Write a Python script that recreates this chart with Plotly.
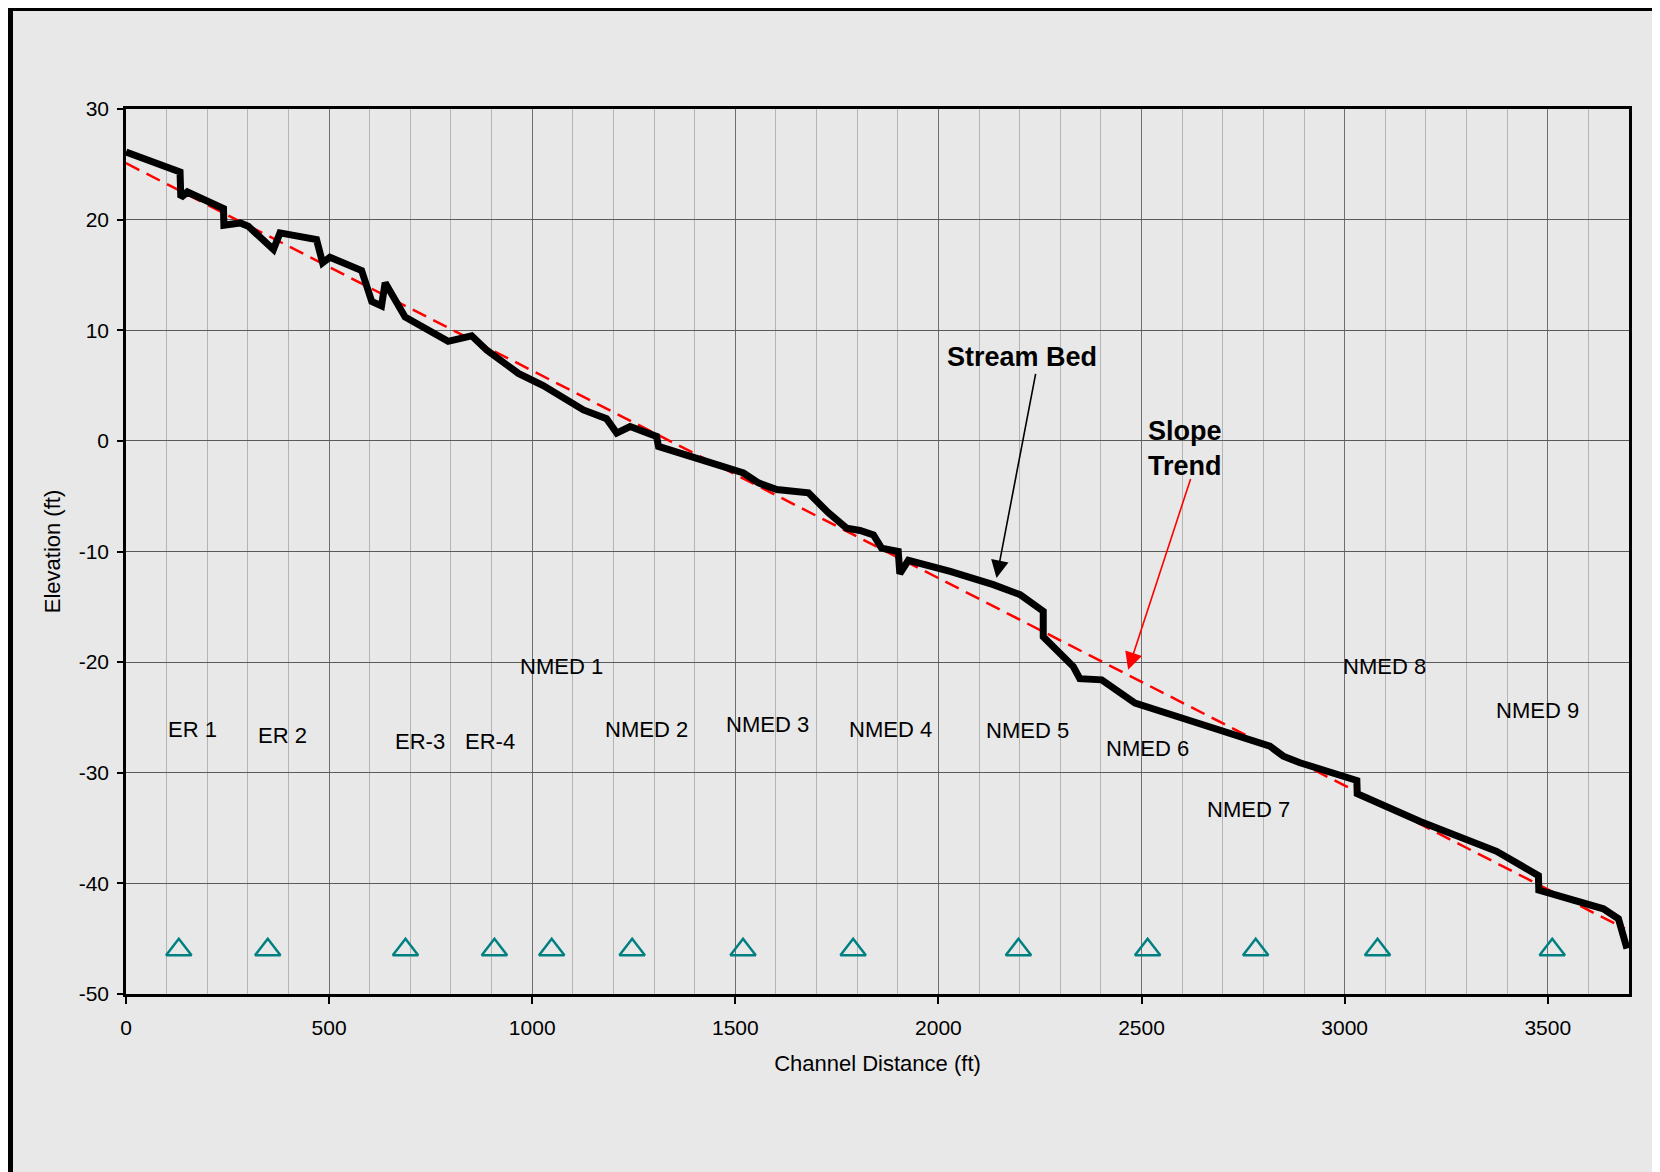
import plotly.graph_objects as go

# ---- data ----
bed_x = [0, 133, 135, 151, 240, 241, 281, 301, 363, 379, 469, 484, 502, 580, 605, 629, 638, 658, 687,
         793, 851, 888, 941, 966, 1027, 1126, 1183, 1208, 1241, 1306, 1311, 1413, 1520, 1557, 1602,
         1680, 1729, 1774, 1807, 1840, 1860, 1901, 1905, 1926, 2029, 2135, 2201, 2258, 2258, 2332,
         2348, 2402, 2484, 2603, 2767, 2816, 2849, 2890, 3030, 3031, 3186, 3374, 3477, 3478, 3506,
         3637, 3674, 3695]
bed_y = [26.1, 24.3, 22.0, 22.5, 21.0, 19.5, 19.7, 19.4, 17.3, 18.8, 18.2, 16.1, 16.6, 15.4, 12.6,
         12.2, 14.3, 13.0, 11.2, 9.0, 9.5, 8.2, 6.8, 6.1, 5.0, 2.8, 2.0, 0.7, 1.3, 0.4, -0.5, -1.7,
         -2.9, -3.8, -4.4, -4.7, -6.5, -7.9, -8.1, -8.5, -9.7, -10.0, -12.0, -10.8, -11.8, -13.0,
         -13.9, -15.4, -17.7, -20.4, -21.5, -21.6, -23.7, -25.1, -26.9, -27.6, -28.5, -29.1, -30.7,
         -31.9, -34.4, -37.1, -39.3, -40.6, -40.9, -42.3, -43.2, -45.9]

trend_x = [0, 3690]
trend_y = [25.1, -44.1]

station_x = [130, 349, 688, 907, 1048, 1246, 1519, 1790, 2197, 2515, 2781, 3081, 3511]
station_y = [-46.0] * len(station_x)

reach_labels = ["ER 1", "ER 2", "ER-3", "ER-4", "NMED 1", "NMED 2", "NMED 3", "NMED 4",
                "NMED 5", "NMED 6", "NMED 7", "NMED 8", "NMED 9"]
reach_x = [164, 386, 724, 897, 1071, 1282, 1579, 1882, 2220, 2515, 2763, 3099, 3474]
reach_y = [-26.1, -26.6, -27.2, -27.2, -20.4, -26.1, -25.6, -26.1, -26.2, -27.8, -33.3, -20.4, -24.4]

x_ticks = [0, 500, 1000, 1500, 2000, 2500, 3000, 3500]
y_ticks = [30, 20, 10, 0, -10, -20, -30, -40, -50]

FONT = "Liberation Sans, Arial, sans-serif"

fig = go.Figure()
fig.add_trace(go.Scatter(x=trend_x, y=trend_y, mode="lines",
                         line=dict(color="#ff0000", width=2.5, dash="15px,8px"),
                         showlegend=False, hoverinfo="skip"))
fig.add_trace(go.Scatter(x=bed_x, y=bed_y, mode="lines",
                         line=dict(color="#000000", width=7),
                         showlegend=False))
fig.add_trace(go.Scatter(x=station_x, y=station_y, mode="markers",
                         marker=dict(symbol="triangle-up-open", size=22, color="#008080",
                                     line=dict(width=2.5, color="#008080")),
                         showlegend=False))

annotations = []
for t, x, y in zip(reach_labels, reach_x, reach_y):
    annotations.append(dict(x=x, y=y, xref="x", yref="y", text=t, showarrow=False,
                            font=dict(family=FONT, size=22, color="#000000")))

# Stream Bed label + arrow
annotations.append(dict(x=2206, y=7.6, xref="x", yref="y", text="<b>Stream Bed</b>",
                        showarrow=False, font=dict(family=FONT, size=27, color="#000000")))
annotations.append(dict(x=2143, y=-12.4, xref="x", yref="y", ax=2240, ay=6.2,
                        axref="x", ayref="y", text="", showarrow=True,
                        arrowhead=2, arrowsize=2.2, arrowwidth=1.6, arrowcolor="#000000",
                        standoff=0, startstandoff=0))
# Slope Trend label + arrow
annotations.append(dict(x=2510, y=-0.7, xref="x", yref="y", text="<b>Slope<br>Trend</b>",
                        showarrow=False, xanchor="left",
                        font=dict(family=FONT, size=27, color="#000000")))
annotations.append(dict(x=2467, y=-20.7, xref="x", yref="y", ax=2622, ay=-3.3,
                        axref="x", ayref="y", text="", showarrow=True,
                        arrowhead=2, arrowsize=2.2, arrowwidth=1.6, arrowcolor="#ff0000",
                        standoff=0, startstandoff=0))

# page has an 8px body margin: figure is placed at (8, 8)
OFF = 8
W, H = 1660 - OFF, 1172 - OFF
L, T = 126 - OFF, 109 - OFF
R = W - (1629 - OFF)
B = H - (994 - OFF)
pw, ph = W - L - R, H - T - B

def px_x(X):
    return (X - OFF - L) / pw

def px_y(Y):
    return (H - B - (Y - OFF)) / ph

fig.add_shape(type="rect", xref="paper", yref="paper",
              x0=px_x(10), x1=px_x(1664), y0=px_y(8), y1=px_y(1176),
              fillcolor="#e8e8e8", line=dict(color="#000000", width=6), layer="below")

fig.update_layout(
    width=W, height=H,
    margin=dict(l=L, r=R, t=T, b=B, pad=0),
    paper_bgcolor="#ffffff", plot_bgcolor="#ffffff",
    font=dict(family=FONT, size=21, color="#000000"),
    annotations=annotations,
    showlegend=False,
)
fig.update_xaxes(
    range=[0, 3700], tickvals=x_ticks, ticktext=[str(v) for v in x_ticks],
    showgrid=True, gridcolor="#6e6e6e", gridwidth=1,
    minor=dict(dtick=100, tick0=0, showgrid=True, gridcolor="#b4b4b4", gridwidth=1),
    ticks="outside", ticklen=7, tickwidth=1.5, tickcolor="#000000",
    showline=True, linecolor="#000000", linewidth=2.5, mirror=True,
    zeroline=False, ticklabelstandoff=6,
    title=dict(text="Channel Distance (ft)", font=dict(family=FONT, size=22), standoff=18),
    tickfont=dict(family=FONT, size=21),
)
fig.update_yaxes(
    range=[-50, 30], tickvals=y_ticks, ticktext=[str(v) for v in y_ticks],
    showgrid=True, gridcolor="#5a5a5a", gridwidth=1,
    ticks="outside", ticklen=6, tickwidth=1.5, tickcolor="#000000",
    showline=True, linecolor="#000000", linewidth=2.5, mirror=True,
    zeroline=False, ticklabelstandoff=4,
    title=dict(text="Elevation (ft)", font=dict(family=FONT, size=22), standoff=12),
    tickfont=dict(family=FONT, size=21),
)

fig.write_html("out.html")
